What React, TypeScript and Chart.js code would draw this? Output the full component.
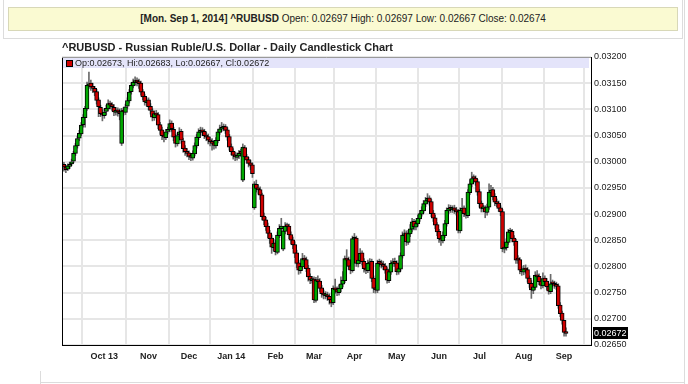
import React, { useEffect, useRef } from 'react';
import { Chart, registerables } from 'chart.js';

Chart.register(...registerables);

const FONT = '"Liberation Sans", Arial, Helvetica, sans-serif';

// Daily candles from Sep 2, 2013 to Sep 2, 2014, values in 1/100000 of a dollar
const openPips = [
  2995, 2990, 2986, 2991, 2996, 3001, 3016, 3030, 3045, 3053,
  3071, 3084, 3101, 3145, 3150, 3144, 3140, 3134, 3118, 3104,
  3093, 3088, 3096, 3101, 3112, 3109, 3104, 3094, 3099, 3096,
  3035, 3098, 3094, 3106, 3116, 3134, 3145, 3151, 3156, 3153,
  3150, 3134, 3125, 3113, 3118, 3106, 3097, 3084, 3093, 3090,
  3071, 3061, 3051, 3046, 3058, 3061, 3074, 3062, 3048, 3034,
  3051, 3058, 3040, 3026, 3020, 3017, 3011, 3007, 3015, 3030,
  3046, 3056, 3061, 3058, 3051, 3048, 3042, 3039, 3036, 3030,
  3040, 3056, 3062, 3064, 3067, 3061, 3048, 3029, 3020, 3013,
  3008, 3011, 3018, 2965, 3027, 3010, 3004, 2998, 2994, 2912,
  2957, 2950, 2947, 2937, 2896, 2889, 2877, 2864, 2854, 2836,
  2845, 2827, 2859, 2872, 2833, 2867, 2878, 2877, 2861, 2851,
  2842, 2826, 2807, 2792, 2799, 2816, 2813, 2797, 2781, 2773,
  2776, 2735, 2775, 2772, 2759, 2749, 2744, 2746, 2743, 2737,
  2731, 2759, 2756, 2750, 2757, 2766, 2773, 2816, 2813, 2801,
  2792, 2852, 2854, 2805, 2811, 2826, 2810, 2797, 2792, 2805,
  2810, 2778, 2759, 2754, 2807, 2807, 2804, 2801, 2794, 2773,
  2789, 2805, 2810, 2807, 2789, 2795, 2820, 2859, 2864, 2846,
  2862, 2871, 2886, 2875, 2881, 2891, 2900, 2906, 2919, 2925,
  2931, 2924, 2902, 2893, 2880, 2867, 2854, 2849, 2859, 2881,
  2906, 2912, 2908, 2912, 2908, 2905, 2868, 2906, 2912, 2902,
  2897, 2941, 2957, 2969, 2969, 2962, 2943, 2921, 2910, 2912,
  2903, 2913, 2941, 2947, 2934, 2924, 2921, 2912, 2905, 2833,
  2836, 2846, 2865, 2867, 2854, 2848, 2813, 2813, 2794, 2789,
  2797, 2794, 2778, 2768, 2754, 2760, 2784, 2781, 2772, 2763,
  2778, 2772, 2762, 2752, 2768, 2768, 2765, 2763, 2726, 2711,
  2697, 2673,
];

const highPips = [
  2999, 2993, 2996, 2999, 3005, 3020, 3035, 3049, 3060, 3075,
  3090, 3106, 3152, 3171, 3156, 3150, 3144, 3138, 3122, 3108,
  3099, 3101, 3108, 3118, 3116, 3113, 3109, 3104, 3103, 3101,
  3102, 3104, 3110, 3122, 3138, 3151, 3158, 3162, 3160, 3158,
  3154, 3138, 3129, 3122, 3122, 3111, 3101, 3097, 3098, 3094,
  3075, 3066, 3056, 3062, 3066, 3080, 3078, 3066, 3052, 3055,
  3065, 3062, 3045, 3031, 3025, 3021, 3016, 3021, 3036, 3052,
  3063, 3066, 3065, 3062, 3056, 3053, 3047, 3044, 3041, 3046,
  3062, 3070, 3075, 3072, 3071, 3065, 3052, 3034, 3025, 3018,
  3017, 3022, 3024, 3034, 3031, 3014, 3008, 3003, 2998, 2962,
  2965, 2956, 2952, 2940, 2902, 2894, 2883, 2869, 2860, 2852,
  2850, 2866, 2880, 2892, 2874, 2884, 2883, 2881, 2866, 2856,
  2847, 2831, 2812, 2806, 2825, 2821, 2818, 2802, 2786, 2781,
  2780, 2779, 2782, 2777, 2764, 2755, 2752, 2751, 2748, 2742,
  2763, 2776, 2761, 2765, 2780, 2790, 2820, 2832, 2818, 2806,
  2858, 2863, 2858, 2818, 2834, 2830, 2815, 2803, 2812, 2815,
  2814, 2782, 2764, 2812, 2814, 2812, 2810, 2806, 2798, 2795,
  2811, 2815, 2816, 2811, 2801, 2826, 2866, 2870, 2868, 2869,
  2880, 2892, 2890, 2888, 2898, 2907, 2914, 2926, 2932, 2939,
  2935, 2928, 2907, 2898, 2884, 2871, 2859, 2866, 2888, 2912,
  2918, 2917, 2916, 2917, 2913, 2909, 2912, 2930, 2916, 2907,
  2947, 2966, 2980, 2975, 2973, 2966, 2947, 2925, 2917, 2916,
  2919, 2958, 2955, 2951, 2939, 2929, 2925, 2916, 2909, 2843,
  2853, 2871, 2873, 2871, 2859, 2852, 2821, 2817, 2800, 2802,
  2803, 2798, 2782, 2773, 2768, 2790, 2792, 2786, 2777, 2788,
  2782, 2777, 2767, 2785, 2774, 2772, 2770, 2767, 2731, 2715,
  2697, 2683,
];

const lowPips = [
  2982, 2979, 2983, 2987, 2993, 2998, 3012, 3026, 3040, 3050,
  3066, 3066, 3098, 3140, 3136, 3132, 3126, 3110, 3086, 3086,
  3078, 3083, 3090, 3097, 3101, 3098, 3088, 3089, 3087, 3080,
  3031, 3089, 3090, 3102, 3112, 3129, 3141, 3146, 3145, 3140,
  3127, 3118, 3108, 3106, 3099, 3091, 3078, 3079, 3083, 3063,
  3052, 3042, 3038, 3042, 3053, 3057, 3058, 3040, 3028, 3030,
  3046, 3035, 3018, 3012, 3009, 3004, 3002, 3003, 3011, 3026,
  3042, 3051, 3050, 3044, 3040, 3034, 3030, 3022, 3024, 3026,
  3036, 3052, 3058, 3059, 3054, 3041, 3022, 3013, 3005, 3002,
  3003, 3006, 3010, 2962, 3004, 2997, 2990, 2985, 2970, 2909,
  2942, 2938, 2928, 2889, 2880, 2869, 2855, 2844, 2825, 2830,
  2822, 2824, 2855, 2866, 2830, 2862, 2869, 2853, 2843, 2834,
  2817, 2798, 2785, 2787, 2795, 2805, 2790, 2772, 2767, 2768,
  2731, 2732, 2765, 2752, 2741, 2738, 2738, 2735, 2728, 2723,
  2727, 2749, 2744, 2745, 2752, 2761, 2769, 2806, 2794, 2786,
  2789, 2846, 2800, 2799, 2806, 2803, 2789, 2786, 2788, 2800,
  2771, 2750, 2749, 2750, 2800, 2797, 2794, 2787, 2768, 2769,
  2785, 2800, 2800, 2784, 2785, 2791, 2816, 2854, 2840, 2842,
  2857, 2866, 2870, 2870, 2877, 2886, 2896, 2902, 2914, 2920,
  2917, 2895, 2886, 2872, 2859, 2846, 2840, 2845, 2855, 2877,
  2901, 2903, 2903, 2901, 2898, 2864, 2864, 2902, 2895, 2892,
  2893, 2937, 2952, 2962, 2955, 2936, 2913, 2904, 2904, 2893,
  2898, 2909, 2935, 2927, 2916, 2914, 2905, 2897, 2828, 2826,
  2831, 2842, 2859, 2847, 2840, 2806, 2806, 2786, 2783, 2784,
  2787, 2770, 2760, 2739, 2748, 2756, 2773, 2765, 2757, 2759,
  2764, 2755, 2747, 2748, 2761, 2758, 2756, 2720, 2704, 2690,
  2667, 2667,
];

const closePips = [
  2990, 2985, 2992, 2995, 3000, 3016, 3031, 3044, 3054, 3070,
  3085, 3102, 3146, 3149, 3143, 3140, 3133, 3117, 3105, 3092,
  3089, 3095, 3102, 3111, 3108, 3105, 3095, 3098, 3095, 3092,
  3097, 3095, 3105, 3117, 3133, 3146, 3152, 3155, 3152, 3149,
  3133, 3124, 3114, 3117, 3105, 3098, 3085, 3092, 3089, 3070,
  3060, 3050, 3047, 3057, 3060, 3073, 3063, 3047, 3035, 3050,
  3057, 3041, 3025, 3019, 3016, 3010, 3008, 3016, 3031, 3047,
  3057, 3060, 3057, 3050, 3047, 3041, 3038, 3035, 3031, 3041,
  3057, 3063, 3065, 3066, 3060, 3047, 3028, 3019, 3012, 3009,
  3012, 3016, 3016, 3028, 3009, 3003, 2997, 2993, 2977, 2958,
  2949, 2946, 2936, 2895, 2888, 2876, 2863, 2853, 2837, 2844,
  2828, 2860, 2873, 2877, 2868, 2877, 2876, 2860, 2850, 2841,
  2825, 2806, 2793, 2800, 2815, 2812, 2796, 2780, 2774, 2775,
  2736, 2774, 2771, 2758, 2748, 2745, 2745, 2742, 2736, 2730,
  2758, 2755, 2751, 2758, 2767, 2774, 2815, 2812, 2800, 2793,
  2853, 2853, 2806, 2812, 2825, 2809, 2796, 2793, 2806, 2809,
  2777, 2758, 2755, 2806, 2806, 2803, 2800, 2793, 2774, 2790,
  2806, 2809, 2806, 2790, 2796, 2821, 2860, 2863, 2847, 2863,
  2872, 2885, 2876, 2882, 2892, 2901, 2907, 2920, 2926, 2930,
  2923, 2901, 2892, 2879, 2866, 2853, 2850, 2860, 2882, 2907,
  2911, 2909, 2911, 2907, 2904, 2869, 2907, 2911, 2901, 2898,
  2942, 2958, 2968, 2968, 2961, 2942, 2920, 2911, 2911, 2904,
  2914, 2942, 2946, 2933, 2923, 2920, 2911, 2904, 2834, 2837,
  2847, 2866, 2866, 2853, 2847, 2812, 2812, 2793, 2790, 2796,
  2793, 2777, 2767, 2755, 2761, 2783, 2780, 2771, 2764, 2777,
  2771, 2761, 2753, 2767, 2767, 2764, 2762, 2725, 2710, 2697,
  2674, 2672,
];

// Trading-day index of the first day of each month and its label
const monthTickIndex = [21, 44, 65, 87, 110, 130, 151, 173, 195, 216, 239, 260];
const monthTickLabels = ['Oct 13', 'Nov', 'Dec', 'Jan 14', 'Feb', 'Mar', 'Apr', 'May', 'Jun', 'Jul', 'Aug', 'Sep'];

const yMin = 0.0265;
const yMax = 0.032;
const yStep = 0.0005;
const xMin = -1;
const xMax = 274;

const headerBold = '[Mon. Sep 1, 2014] ^RUBUSD';
const headerRest = ' Open: 0.02697 High: 0.02697 Low: 0.02667 Close: 0.02674';
const chartTitle = '^RUBUSD - Russian Ruble/U.S. Dollar - Daily Candlestick Chart';

const UP = '#00a800';
const DOWN = '#d00000';

const toPrice = (p: number) => p / 100000;

export default function App() {
  const canvasRef = useRef<HTMLCanvasElement>(null);

  useEffect(() => {
    const opens = openPips.map(toPrice);
    const highs = highPips.map(toPrice);
    const lows = lowPips.map(toPrice);
    const closes = closePips.map(toPrice);
    const last = closes.length - 1;

    const wickData = opens.map((_, i) => ({ x: i, y: [lows[i], highs[i]] }));
    const bodyData = opens.map((o, i) => ({ x: i, y: [o, closes[i]] }));
    const bodyColors = opens.map((o, i) => (closes[i] > o ? UP : closes[i] < o ? DOWN : '#000'));

    const overlay = {
      id: 'overlay',
      afterDraw(chart: any) {
        const { ctx, chartArea } = chart;
        const { left, right, top, bottom } = chartArea;
        ctx.save();
        // frame
        ctx.strokeStyle = '#000';
        ctx.lineWidth = 1;
        ctx.beginPath();
        ctx.moveTo(left + 0.5, top);
        ctx.lineTo(left + 0.5, bottom + 1);
        ctx.stroke();
        ctx.strokeStyle = '#9a9a9a';
        ctx.beginPath();
        ctx.moveTo(left, top + 0.5);
        ctx.lineTo(right, top + 0.5);
        ctx.stroke();
        // legend band
        ctx.fillStyle = '#e4e4fa';
        ctx.fillRect(left + 1, top + 1, right - left - 3, 10);
        ctx.fillStyle = opens[last] > closes[last] ? DOWN : UP;
        ctx.fillRect(left + 4, top + 3, 6, 6);
        ctx.strokeStyle = '#000';
        ctx.strokeRect(left + 4.5, top + 3.5, 6, 6);
        ctx.fillStyle = '#222';
        ctx.font = '9px ' + FONT;
        ctx.textBaseline = 'middle';
        ctx.textAlign = 'left';
        const f = (v: number) => v.toFixed(5);
        ctx.fillText(
          `Op:${f(opens[last])}, Hi:${f(highs[last])}, Lo:${f(lows[last])}, Cl:${f(closes[last])}`,
          left + 13,
          top + 6.5
        );
        // last value marker on the axis
        const y = chart.scales.y.getPixelForValue(closes[last]);
        ctx.fillStyle = '#000';
        ctx.fillRect(right + 2, Math.round(y) - 6, 35, 12);
        ctx.fillStyle = '#fff';
        ctx.fillText(f(closes[last]), right + 3, Math.round(y) + 0.5);
        ctx.restore();
      },
    };

    const chart = new Chart(canvasRef.current as HTMLCanvasElement, {
      type: 'bar',
      data: {
        datasets: [
          {
            data: wickData as any,
            backgroundColor: '#6a6a6a',
            borderWidth: 0,
            barThickness: 1,
            grouped: false,
            order: 2,
          } as any,
          {
            data: bodyData as any,
            backgroundColor: bodyColors,
            borderColor: '#000',
            borderWidth: 1,
            borderSkipped: false,
            barThickness: 4,
            minBarLength: 2,
            grouped: false,
            order: 1,
          } as any,
        ],
      },
      options: {
        animation: false,
        responsive: false,
        maintainAspectRatio: false,
        events: [],
        layout: { padding: { left: 62, top: 57, right: 0, bottom: 0 } },
        plugins: { legend: { display: false }, tooltip: { enabled: false }, title: { display: false } },
        scales: {
          x: {
            type: 'linear',
            min: xMin,
            max: xMax,
            offset: false,
            afterBuildTicks: (scale: any) => {
              scale.ticks = monthTickIndex.map((v) => ({ value: v }));
            },
            afterFit: (scale: any) => {
              scale.height = 39;
            },
            grid: { color: '#e6e6e6', lineWidth: 2, drawTicks: false },
            border: { display: true, color: '#000', width: 1 },
            ticks: {
              autoSkip: false,
              maxRotation: 0,
              padding: 6,
              color: '#222',
              font: { family: FONT, size: 9, weight: 'bold' },
              callback: (_v: any, i: number) => monthTickLabels[i],
            },
          } as any,
          y: {
            type: 'linear',
            position: 'right',
            min: yMin,
            max: yMax,
            afterFit: (scale: any) => {
              scale.width = 97;
            },
            grid: { color: '#e6e6e6', lineWidth: 2, drawTicks: false },
            border: { display: true, color: '#000', width: 1 },
            ticks: {
              stepSize: yStep,
              padding: 3,
              color: '#222',
              font: { family: FONT, size: 9 },
              callback: (v: any) => Number(v).toFixed(5),
            },
          } as any,
        },
      },
      plugins: [overlay],
    });

    return () => chart.destroy();
  }, []);

  return (
    <div
      style={{
        position: 'fixed',
        left: 0,
        top: 0,
        width: 688,
        height: 384,
        background: '#fff',
        overflow: 'hidden',
        fontFamily: FONT,
      }}
    >
      <div
        style={{
          position: 'absolute',
          left: 3,
          top: -1,
          width: 680,
          height: 40,
          border: '1px solid #dcdcdc',
          boxSizing: 'border-box',
        }}
      />
      <div
        style={{
          position: 'absolute',
          left: 8,
          top: 7,
          width: 670,
          height: 24,
          background: '#fafad2',
          border: '1px solid #d8d8b8',
          boxSizing: 'border-box',
          textAlign: 'center',
          fontSize: 10,
          lineHeight: '22px',
          color: '#222',
          whiteSpace: 'nowrap',
        }}
      >
        <b>{headerBold}</b>
        {headerRest}
      </div>
      <div style={{ position: 'absolute', left: 684, top: 0, width: 1, height: 384, background: '#dcdcdc' }} />
      <canvas
        ref={canvasRef}
        width={688}
        height={384}
        style={{ position: 'absolute', left: 0, top: 0, width: 688, height: 384 }}
      />
      <div
        style={{
          position: 'absolute',
          left: 62,
          top: 40,
          fontSize: 11,
          fontWeight: 'bold',
          lineHeight: '14px',
          color: '#222',
          whiteSpace: 'nowrap',
        }}
      >
        {chartTitle}
      </div>
      <div style={{ position: 'absolute', left: 40, top: 371, width: 1, height: 13, background: '#dcdcdc' }} />
      <div style={{ position: 'absolute', left: 40, top: 382, width: 644, height: 1, background: '#dcdcdc' }} />
    </div>
  );
}
